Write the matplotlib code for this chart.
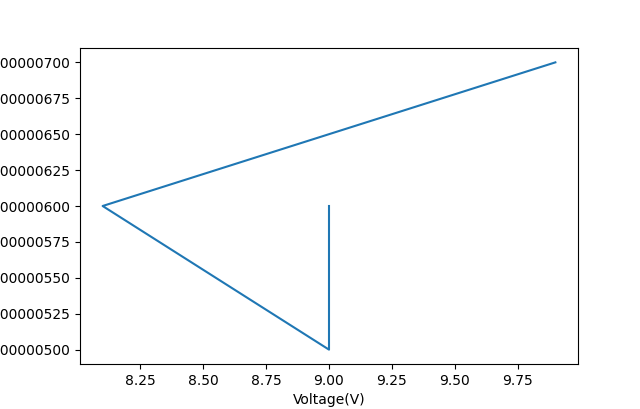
import matplotlib
matplotlib.use("Agg")
import matplotlib.pyplot as plt
from matplotlib.ticker import FormatStrFormatter

voltage = [9.0, 9.0, 8.1, 9.9]
current = [6.0e-7, 5.0e-7, 6.0e-7, 7.0e-7]

fig = plt.figure(figsize=(6.4, 4.09), dpi=100)
ax = fig.add_axes([80/640, 1-364/409, (578-80)/640, (364-48)/409])
ax.plot(voltage, current)
ax.yaxis.set_major_formatter(FormatStrFormatter('%.9f'))
ax.set_xlabel("Voltage(V)")
fig.savefig("out.png", dpi=100)
